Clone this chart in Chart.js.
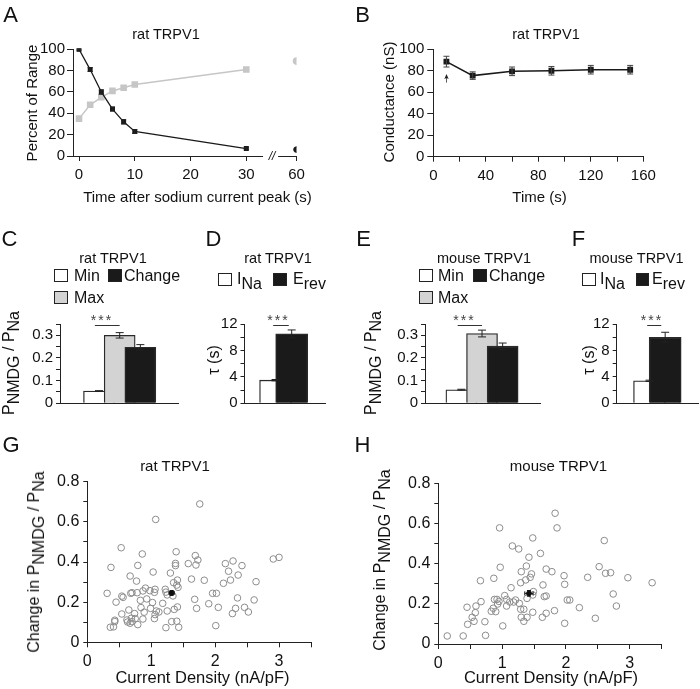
<!DOCTYPE html>
<html><head><meta charset="utf-8">
<script src="https://cdn.jsdelivr.net/npm/chart.js@4.4.1/dist/chart.umd.min.js"></script>
<style>
html,body{margin:0;padding:0;background:#fff;}
#wrap{position:relative;width:700px;height:689px;overflow:hidden;font-family:"Liberation Sans",Arial,Helvetica,sans-serif;color:#111;}
#wrap canvas{position:absolute;left:0;top:0;}
.t{position:absolute;white-space:nowrap;line-height:1;}
.c{transform:translate(-50%,-50%);}
.r{transform:translate(-50%,-50%) rotate(-90deg);}
.lg{transform:translate(0,-50%);font-size:16px;}
.L{font-size:22px;}
.ti{font-size:14.5px;}
.sb{position:relative;top:0.32em;}
.sw{position:absolute;box-sizing:border-box;border:1.5px solid #222;}
.st{font-size:14px;color:#444;letter-spacing:2px;}
</style></head>
<body>
<div id="wrap">
  <!-- panel letters -->
  <div class="t c L" style="left:10.5px;top:15px">A</div>
  <div class="t c L" style="left:362.5px;top:15px">B</div>
  <div class="t c L" style="left:9.5px;top:239px">C</div>
  <div class="t c L" style="left:213.5px;top:239px">D</div>
  <div class="t c L" style="left:363.5px;top:239px">E</div>
  <div class="t c L" style="left:578.5px;top:239px">F</div>
  <div class="t c L" style="left:11px;top:445px">G</div>
  <div class="t c L" style="left:362.5px;top:445px">H</div>

  <!-- A -->
  <div class="t c ti" style="left:166px;top:34px">rat TRPV1</div>
  <div class="t r" style="left:31px;top:102.5px;font-size:15px">Percent of Range</div>
  <div class="t c" style="left:197.5px;top:196px;font-size:15px">Time after sodium current peak (s)</div>
  <div class="t c" style="left:272px;top:156px;font-size:12px;font-style:italic;background:#fff;padding:0 2px">//</div>

  <!-- B -->
  <div class="t c ti" style="left:546px;top:34px">rat TRPV1</div>
  <div class="t r" style="left:388px;top:102px;font-size:15px">Conductance (nS)</div>
  <div class="t c" style="left:539.5px;top:196px;font-size:15px">Time (s)</div>

  <!-- C -->
  <div class="t c ti" style="left:113px;top:257.5px">rat TRPV1</div>
  <div class="sw" style="left:54px;top:269px;width:14px;height:13px;background:#fff"></div>
  <div class="t lg" style="left:74px;top:276px">Min</div>
  <div class="sw" style="left:108px;top:269px;width:14px;height:13px;background:#1a1a1a"></div>
  <div class="t lg" style="left:124px;top:276px">Change</div>
  <div class="sw" style="left:54px;top:291px;width:14px;height:13px;background:#d3d3d3"></div>
  <div class="t lg" style="left:74px;top:298px">Max</div>
  <div class="t r" style="left:9px;top:363px;font-size:16px">P<span class="sb">NMDG</span> / P<span class="sb">Na</span></div>
  <div class="t c st" style="left:102px;top:320px">***</div>

  <!-- D -->
  <div class="t c ti" style="left:278px;top:257.5px">rat TRPV1</div>
  <div class="sw" style="left:218px;top:273px;width:14px;height:13px;background:#fff"></div>
  <div class="t lg" style="left:237px;top:279px">I<span class="sb">Na</span></div>
  <div class="sw" style="left:273px;top:273px;width:14px;height:13px;background:#1a1a1a"></div>
  <div class="t lg" style="left:293px;top:279px">E<span class="sb">rev</span></div>
  <div class="t r" style="left:214px;top:360px;font-size:16px">τ (s)</div>
  <div class="t c st" style="left:278.5px;top:320px">***</div>

  <!-- E -->
  <div class="t c ti" style="left:484px;top:257.5px">mouse TRPV1</div>
  <div class="sw" style="left:419px;top:269px;width:14px;height:13px;background:#fff"></div>
  <div class="t lg" style="left:438px;top:276px">Min</div>
  <div class="sw" style="left:473px;top:269px;width:14px;height:13px;background:#1a1a1a"></div>
  <div class="t lg" style="left:489px;top:276px">Change</div>
  <div class="sw" style="left:419px;top:291px;width:14px;height:13px;background:#d3d3d3"></div>
  <div class="t lg" style="left:438px;top:298px">Max</div>
  <div class="t r" style="left:371px;top:363px;font-size:16px">P<span class="sb">NMDG</span> / P<span class="sb">Na</span></div>
  <div class="t c st" style="left:464.5px;top:320px">***</div>

  <!-- F -->
  <div class="t c ti" style="left:636.5px;top:257.5px">mouse TRPV1</div>
  <div class="sw" style="left:582px;top:273px;width:14px;height:13px;background:#fff"></div>
  <div class="t lg" style="left:600px;top:279px">I<span class="sb">Na</span></div>
  <div class="sw" style="left:636px;top:273px;width:13px;height:13px;background:#1a1a1a"></div>
  <div class="t lg" style="left:652px;top:279px">E<span class="sb">rev</span></div>
  <div class="t r" style="left:588.5px;top:360px;font-size:16px">τ (s)</div>
  <div class="t c st" style="left:652px;top:320px">***</div>

  <!-- G -->
  <div class="t c" style="left:175px;top:465px;font-size:15px">rat TRPV1</div>
  <div class="t r" style="left:34px;top:562px;font-size:16px">Change in P<span class="sb">NMDG</span> / P<span class="sb">Na</span></div>
  <div class="t c" style="left:202.5px;top:677px;font-size:16.5px">Current Density (nA/pF)</div>

  <!-- H -->
  <div class="t c" style="left:558.5px;top:465px;font-size:15px">mouse TRPV1</div>
  <div class="t r" style="left:380px;top:560px;font-size:16px">Change in P<span class="sb">NMDG</span> / P<span class="sb">Na</span></div>
  <div class="t c" style="left:551px;top:677px;font-size:16.5px">Current Density (nA/pF)</div>
</div>
<script>
// ---------------- DATA ----------------
// Panel A: percent of range vs time after sodium current peak
const timeA = [0, 2, 4, 6, 8, 10, 30];
const decayA = [100, 81, 60, 44, 32, 23, 7];
const decayErrA = [0.6, 1.8, 2, 1.8, 2, 1.8, 1];
const riseA = [35, 48, 55, 61, 64, 67, 81];
const lateTimeA = [60];
const decayLateA = [6];
const riseLateA = [89];
const xTickValsA = [0, 10, 20, 30, 60];
const yTicksA = [0, 20, 40, 60, 80, 100];

// Panel B: conductance vs time
const timeB = [10, 30, 60, 90, 120, 150];
const condB = [88.5, 75.5, 79.5, 80, 81, 81];
const condErrB = [5, 3.5, 4, 4, 4, 4];
const xTicksB = [0, 20, 40, 60, 80, 100, 120, 140, 160];
const xLabelsB = ['0', '', '40', '', '80', '', '120', '', '160'];
const yTicksB = [0, 20, 40, 60, 80, 100];

// Panels C & E: P_NMDG / P_Na
const catsCE = ['Min', 'Max', 'Change'];
const ratioC = [0.054, 0.300, 0.247];
const ratioErrC = [0.002, 0.012, 0.012];
const ratioE = [0.060, 0.308, 0.252];
const ratioErrE = [0.002, 0.015, 0.014];
const yTicksCE = [0, 0.05, 0.1, 0.15, 0.2, 0.25, 0.3, 0.35];
const yLabelsCE = ['0', '', '0.1', '', '0.2', '', '0.3', ''];

// Panels D & F: tau
const catsDF = ['INa', 'Erev'];
const tauD = [3.5, 10.5];
const tauErrD = [0.1, 0.6];
const tauF = [3.4, 10.0];
const tauErrF = [0.1, 0.75];
const yTicksDF = [0, 2, 4, 6, 8, 10, 12];
const yLabelsDF = ['0', '', '4', '', '8', '', '12'];

// Panel G: rat scatter
const densityG = [0.31,0.37,0.36,0.41,0.43,0.43,0.45,0.53,0.54,0.56,0.54,0.67,0.68,0.70,0.65,0.62,0.63,0.67,0.69,0.74,0.75,0.70,0.77,0.79,0.78,0.79,0.86,0.83,0.84,0.87,0.91,0.93,0.89,0.87,0.98,1.03,1.05,1.06,0.99,1.02,1.05,1.06,1.08,1.12,1.07,1.18,1.22,1.23,1.25,1.23,1.25,1.30,1.32,1.34,1.35,1.36,1.39,1.38,1.38,1.40,1.43,1.41,1.41,1.42,1.40,1.58,1.63,1.68,1.69,1.70,1.73,1.71,1.76,1.83,1.90,1.96,2.02,2.01,2.05,2.13,2.16,2.21,2.24,2.28,2.27,2.32,2.35,2.36,2.42,2.46,2.52,2.61,2.64,2.91,3.00];
const changeG = [0.244,0.373,0.075,0.077,0.11,0.103,0.2,0.471,0.23,0.224,0.141,0.33,0.244,0.247,0.161,0.111,0.101,0.095,0.12,0.143,0.118,0.103,0.305,0.383,0.247,0.088,0.44,0.209,0.173,0.256,0.27,0.216,0.15,0.116,0.257,0.35,0.249,0.264,0.169,0.198,0.118,0.138,0.156,0.151,0.612,0.194,0.264,0.25,0.236,0.073,0.156,0.345,0.103,0.231,0.297,0.164,0.451,0.393,0.382,0.105,0.075,0.176,0.31,0.274,0.285,0.392,0.315,0.214,0.432,0.385,0.41,0.169,0.689,0.309,0.192,0.244,0.244,0.083,0.174,0.294,0.392,0.354,0.31,0.405,0.143,0.169,0.221,0.335,0.382,0.174,0.151,0.211,0.302,0.415,0.423];
const meanG = [1.32, 0.246];
const meanErrG = [0.04, 0.012];

// Panel H: mouse scatter
const densityH = [0.14,0.39,0.74,0.45,0.46,0.53,0.56,0.58,0.59,0.66,0.67,0.73,0.83,0.86,0.87,0.88,0.90,0.92,0.93,0.95,0.96,0.97,1.01,1.04,1.07,1.07,1.12,1.14,1.16,1.18,1.21,1.26,1.27,1.30,1.29,1.29,1.30,1.34,1.34,1.37,1.38,1.39,1.39,1.42,1.44,1.46,1.48,1.48,1.49,1.48,1.60,1.64,1.63,1.66,1.69,1.69,1.69,1.78,1.82,1.83,1.86,1.97,1.98,1.98,2.02,2.06,2.21,2.34,2.46,2.52,2.60,2.62,2.70,2.74,2.79,2.97,3.35];
const changeH = [0.04,0.04,0.043,0.183,0.098,0.133,0.113,0.156,0.189,0.315,0.211,0.111,0.163,0.178,0.327,0.222,0.161,0.222,0.199,0.212,0.578,0.382,0.09,0.241,0.222,0.189,0.209,0.28,0.488,0.209,0.219,0.473,0.202,0.36,0.305,0.173,0.133,0.173,0.113,0.319,0.388,0.227,0.133,0.432,0.332,0.349,0.528,0.244,0.261,0.158,0.451,0.294,0.133,0.236,0.373,0.239,0.153,0.36,0.166,0.651,0.578,0.34,0.297,0.103,0.219,0.219,0.181,0.332,0.128,0.385,0.515,0.352,0.355,0.249,0.189,0.33,0.305];
const meanH = [1.42, 0.252];
const meanErrH = [0.065, 0.014];

const xTicksGH = [0, 0.5, 1, 1.5, 2, 2.5, 3, 3.5];
const xLabelsGH = ['0', '', '1', '', '2', '', '3', ''];
const yTicksGH = [0, 0.1, 0.2, 0.3, 0.4, 0.5, 0.6, 0.7, 0.8];
const yLabelsGH = ['0', '', '0.2', '', '0.4', '', '0.6', '', '0.8'];

// ---------------- SETUP ----------------
Chart.defaults.font.family = '"Liberation Sans", Arial, Helvetica, sans-serif';
Chart.defaults.font.size = 15;
Chart.defaults.color = '#111';
Chart.defaults.animation = false;
Chart.defaults.plugins.legend.display = false;
Chart.defaults.plugins.tooltip.enabled = false;

const W = 700, H = 689, AXW = 44, AXH = 34;
const AXIS = '#222';
function frame(L, T, R, B) { return { left: L - AXW, top: T, right: W - R, bottom: H - B - AXH }; }

function axis(kind, min, max, ticks, labels, o = {}) {
  const showT = ticks && ticks.length > 0;
  return {
    type: 'linear', min, max,
    afterFit(s) { if (kind === 'y') s.width = AXW; else s.height = AXH; },
    afterBuildTicks(s) { if (showT) s.ticks = ticks.map(v => ({ value: v })); },
    ticks: {
      display: showT && !!labels, autoSkip: false, maxRotation: 0,
      padding: o.pad ?? 4, font: { size: o.size ?? 15 }, color: '#111',
      callback: (v, i) => labels ? (labels[i] ?? '') : ''
    },
    grid: { display: showT, drawOnChartArea: false, drawTicks: true, tickLength: o.tl ?? 5, color: AXIS, lineWidth: 1 },
    border: { display: o.border ?? true, color: AXIS, width: 1 }
  };
}

const errorBars = {
  id: 'errorBars',
  afterDatasetsDraw(chart) {
    const ctx = chart.ctx;
    chart.data.datasets.forEach((ds, i) => {
      if (!ds.yErr && !ds.xErr) return;
      const meta = chart.getDatasetMeta(i);
      const xs = chart.scales[meta.xAxisID], ys = chart.scales[meta.yAxisID];
      ctx.save();
      ctx.strokeStyle = ds.errColor || '#222';
      ctx.lineWidth = 1;
      const cap = ds.errCap ?? 3;
      ds.data.forEach((d, j) => {
        const px = xs.getPixelForValue(d.x), py = ys.getPixelForValue(d.y);
        ctx.beginPath();
        if (ds.yErr) {
          const e = ds.yErr[j];
          const y1 = ys.getPixelForValue(d.y + e), y2 = ys.getPixelForValue(d.y - e);
          ctx.moveTo(px, y1); ctx.lineTo(px, y2);
          ctx.moveTo(px - cap, y1); ctx.lineTo(px + cap, y1);
          ctx.moveTo(px - cap, y2); ctx.lineTo(px + cap, y2);
        }
        if (ds.xErr) {
          const e = ds.xErr[j];
          const x1 = xs.getPixelForValue(d.x - e), x2 = xs.getPixelForValue(d.x + e);
          ctx.moveTo(x1, py); ctx.lineTo(x2, py);
          ctx.moveTo(x1, py - cap); ctx.lineTo(x1, py + cap);
          ctx.moveTo(x2, py - cap); ctx.lineTo(x2, py + cap);
        }
        ctx.stroke();
      });
      ctx.restore();
    });
  }
};

function sigLine(x1, x2, yv) {
  return {
    id: 'sig',
    afterDraw(chart) {
      const { ctx, scales: { x, y } } = chart;
      const py = Math.round(y.getPixelForValue(yv)) + 0.5;
      ctx.save(); ctx.strokeStyle = '#333'; ctx.lineWidth = 1;
      ctx.beginPath(); ctx.moveTo(x.getPixelForValue(x1), py); ctx.lineTo(x.getPixelForValue(x2), py); ctx.stroke();
      ctx.restore();
    }
  };
}

function canvas() {
  const c = document.createElement('canvas');
  c.width = W; c.height = H;
  document.getElementById('wrap').insertBefore(c, document.getElementById('wrap').firstChild);
  return c;
}
const xy = (xs, ys) => xs.map((v, i) => ({ x: v, y: ys[i] }));
const baseOpts = { responsive: false, maintainAspectRatio: false, devicePixelRatio: 1, animation: false };

// ---------------- PANEL A ----------------
const BREAK_POS_A = 39;           // axis position used for the 60 s point after the break
const posA = t => (t > 30 ? BREAK_POS_A : t);
const breakA = {
  id: 'breakA',
  afterDraw(chart) {
    const { ctx, chartArea: a, scales: { x } } = chart;
    const y = Math.round(a.bottom) + 0.5;
    ctx.save(); ctx.strokeStyle = AXIS; ctx.lineWidth = 1;
    ctx.beginPath();
    ctx.moveTo(a.left, y); ctx.lineTo(x.getPixelForValue(33), y);
    ctx.moveTo(x.getPixelForValue(35.7), y); ctx.lineTo(a.right, y);
    ctx.stroke(); ctx.restore();
  }
};
new Chart(canvas(), {
  type: 'line',
  data: {
    datasets: [
      { data: xy(timeA.map(posA), decayA), yErr: decayErrA, errCap: 2.5, borderColor: '#1a1a1a', borderWidth: 1.3,
        pointStyle: 'rect', pointRadius: 2.6, pointBackgroundColor: '#1a1a1a', pointBorderColor: '#1a1a1a', tension: 0 },
      { data: xy(lateTimeA.map(posA), decayLateA), showLine: false, pointStyle: 'circle', pointRadius: 2.8,
        pointBackgroundColor: '#1a1a1a', pointBorderColor: '#1a1a1a' },
      { data: xy(timeA.map(posA), riseA), borderColor: '#c6c6c6', borderWidth: 1.5,
        pointStyle: 'rect', pointRadius: 3.6, pointBackgroundColor: '#c6c6c6', pointBorderColor: '#c6c6c6', tension: 0 },
      { data: xy(lateTimeA.map(posA), riseLateA), showLine: false, pointStyle: 'circle', pointRadius: 3.4,
        pointBackgroundColor: '#c6c6c6', pointBorderColor: '#c6c6c6' }
    ]
  },
  options: {
    ...baseOpts,
    layout: { padding: frame(73, 49.3, 296.5, 156) },
    scales: {
      x: axis('x', -1.08, 39, xTickValsA.map(posA), xTickValsA.map(String), { border: false, tl: 5, pad: 5 }),
      y: axis('y', 0, 100, yTicksA, yTicksA.map(String), { tl: 6, pad: 2 })
    }
  },
  plugins: [errorBars, breakA]
});

// ---------------- PANEL B ----------------
const arrowB = { at: 10, from: 69, to: 77 };
const arrowPluginB = {
  id: 'arrowB',
  afterDatasetsDraw(chart) {
    const { ctx, scales: { x, y } } = chart;
    const px = Math.round(x.getPixelForValue(arrowB.at)) + 0.5;
    const y1 = y.getPixelForValue(arrowB.from), y2 = y.getPixelForValue(arrowB.to);
    ctx.save(); ctx.strokeStyle = '#333'; ctx.fillStyle = '#222'; ctx.lineWidth = 0.8;
    ctx.beginPath(); ctx.moveTo(px, y1); ctx.lineTo(px, y2 + 3); ctx.stroke();
    ctx.beginPath(); ctx.moveTo(px, y2); ctx.lineTo(px - 2.2, y2 + 5); ctx.lineTo(px, y2 + 4); ctx.lineTo(px + 2.2, y2 + 5); ctx.closePath(); ctx.fill();
    ctx.restore();
  }
};
new Chart(canvas(), {
  type: 'line',
  data: {
    datasets: [
      { data: xy(timeB, condB), yErr: condErrB, errCap: 3, errColor: '#444', borderColor: '#1a1a1a', borderWidth: 1.6,
        pointStyle: 'rect', pointRadius: 3, pointBackgroundColor: '#1a1a1a', pointBorderColor: '#1a1a1a', tension: 0 }
    ]
  },
  options: {
    ...baseOpts,
    layout: { padding: frame(433.3, 49.3, 643.3, 156.7) },
    scales: {
      x: axis('x', 0, 160, xTicksB, xLabelsB, { tl: 5, pad: 5 }),
      y: axis('y', 0, 100, yTicksB, yTicksB.map(String), { tl: 6, pad: 3 })
    }
  },
  plugins: [errorBars, arrowPluginB]
});

// ---------------- BAR PANELS ----------------
function barPanel(area, xr, values, errs, colors, yMax, yTicks, yLabels, sig, thick) {
  return new Chart(canvas(), {
    type: 'bar',
    data: {
      datasets: [{
        data: values.map((v, i) => ({ x: i + 1, y: v })),
        yErr: errs, errCap: 4, errColor: '#222',
        backgroundColor: colors, borderColor: '#2a2a2a', borderWidth: 1.3, borderSkipped: 'bottom',
        barThickness: thick
      }]
    },
    options: {
      ...baseOpts,
      layout: { padding: frame(...area) },
      scales: {
        x: axis('x', xr[0], xr[1], [], null, {}),
        y: axis('y', 0, yMax, yTicks, yLabels, { tl: 4, pad: 3 })
      }
    },
    plugins: [errorBars, sigLine(...sig)]
  });
}
const colsCE = ['#ffffff', '#d3d3d3', '#1a1a1a'];
const colsDF = ['#ffffff', '#1a1a1a'];
barPanel([60, 324, 178, 403.3], [0.065, 3.87], ratioC, ratioErrC, colsCE, 0.35, yTicksCE, yLabelsCE, [0.8, 2.0, 0.345], 31);
barPanel([244.5, 324, 325, 403.3], [0.32, 2.82], tauD, tauErrD, colsDF, 12, yTicksDF, yLabelsDF, [0.85, 1.82, 11.85], 32);
barPanel([425, 324, 540.7, 403.3], [0.17, 3.91], ratioE, ratioErrE, colsCE, 0.35, yTicksCE, yLabelsCE, [0.82, 2.0, 0.345], 31);
barPanel([616.7, 324, 698, 403.3], [0.2, 2.8], tauF, tauErrF, colsDF, 12, yTicksDF, yLabelsDF, [0.85, 1.75, 11.8], 32);

// ---------------- SCATTER PANELS ----------------
function scatterPanel(area, xs, ys, mean, meanErr) {
  return new Chart(canvas(), {
    type: 'scatter',
    data: {
      datasets: [
        { data: [{ x: mean[0], y: mean[1] }], xErr: [meanErr[0]], yErr: [meanErr[1]], errCap: 2, errColor: '#111',
          pointRadius: 2.4, pointBackgroundColor: '#111', pointBorderColor: '#111' },
        { data: xy(xs, ys), pointRadius: 3.3, pointBackgroundColor: 'rgba(0,0,0,0)', pointBorderColor: '#8c8c8c', pointBorderWidth: 1 }
      ]
    },
    options: {
      ...baseOpts,
      layout: { padding: frame(...area) },
      scales: {
        x: axis('x', 0, 3.5, xTicksGH, xLabelsGH, { tl: 5, pad: 5, size: 16 }),
        y: axis('y', 0, 0.8, yTicksGH, yLabelsGH, { tl: 4, pad: 4, size: 16 })
      }
    },
    plugins: [errorBars]
  });
}
scatterPanel([87.3, 481.7, 311, 642.3], densityG, changeG, meanG, meanErrG);
scatterPanel([438.3, 483.3, 661.7, 644], densityH, changeH, meanH, meanErrH);
</script>
</body></html>
